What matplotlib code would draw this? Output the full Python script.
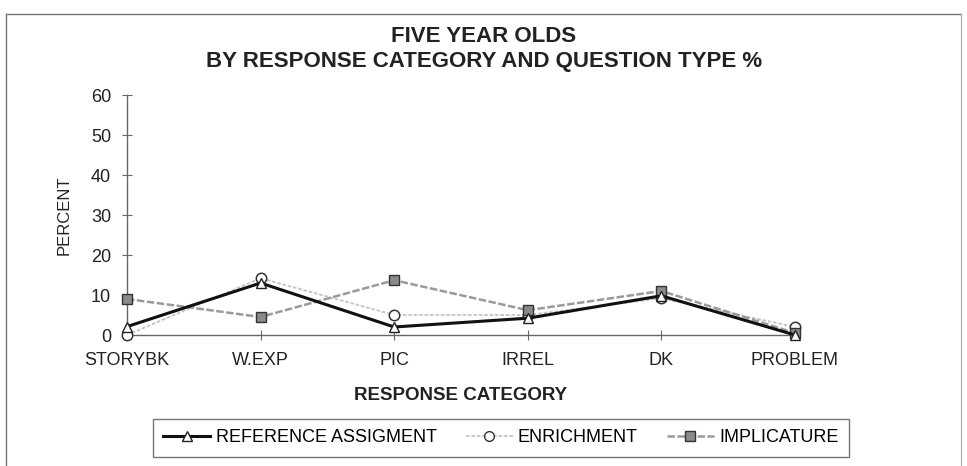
import matplotlib
matplotlib.use("Agg")
import matplotlib.pyplot as plt
from matplotlib.lines import Line2D

plt.rcParams['font.family'] = ['Liberation Sans', 'DejaVu Sans']

# data
categories = ["STORYBK", "W.EXP", "PIC", "IRREL", "DK", "PROBLEM"]
reference = [2.1, 13.0, 2.0, 4.2, 9.8, 0.0]
enrichment = [0.0, 14.2, 5.0, 5.0, 9.2, 2.0]
implicature = [9.0, 4.5, 13.7, 6.2, 11.0, 0.5]
y_ticks = [0, 10, 20, 30, 40, 50, 60]

W, H = 967, 466
fig = plt.figure(figsize=(W / 100, H / 100), dpi=100)

# axes placement in pixels
left, right, bottom, top = 127, 795, 335, 95
ax = fig.add_axes([left / W, 1 - bottom / H, (right - left) / W, (bottom - top) / H])

x = list(range(len(categories)))

# draw lighter series first, reference on top
ax.plot(x, enrichment, color='#c4c4c4', lw=1.3, ls=(0, (2, 1)), marker='o',
        markersize=7.5, markerfacecolor='white', markeredgecolor='#333333',
        markeredgewidth=1.1, zorder=3, clip_on=False)
ax.plot(x, implicature, color='#9a9a9a', lw=1.8, ls=(0, (3, 1)), marker='s',
        markersize=7.5, markerfacecolor='#8a8a8a', markeredgecolor='#333333',
        markeredgewidth=1.0, zorder=4, clip_on=False)
ax.plot(x, reference, color='#111111', lw=2.2, marker='^', markersize=7.5,
        markerfacecolor='white', markeredgecolor='#222222', markeredgewidth=1.0,
        zorder=5, clip_on=False)

ax.set_xlim(0, len(categories) - 1)
ax.set_ylim(0, 60)
ax.set_yticks(y_ticks)
ax.set_yticklabels([str(t) for t in y_ticks], fontsize=13, color='#222222')
ax.set_xticks(x)
ax.set_xticklabels(categories, fontsize=13, color='#222222')

for s in ['top', 'right']:
    ax.spines[s].set_visible(False)
for s in ['left', 'bottom']:
    ax.spines[s].set_color('#666666')
    ax.spines[s].set_linewidth(1.0)
ax.tick_params(axis='y', direction='inout', length=7, color='#666666', pad=8)
ax.tick_params(axis='x', direction='inout', length=7, color='#666666', pad=9)

ax.set_ylabel("PERCENT", fontsize=12, color='#222222', labelpad=14)
ax.set_xlabel("RESPONSE CATEGORY", fontsize=13.5, fontweight='bold',
              color='#222222', labelpad=13)

fig.text(484 / W, 1 - 37 / H, "FIVE YEAR OLDS", ha='center', va='center',
         fontsize=16, fontweight='bold', color='#222222')
fig.text(484 / W, 1 - 61 / H, "BY RESPONSE CATEGORY AND QUESTION TYPE %",
         ha='center', va='center', fontsize=16, fontweight='bold', color='#222222')

handles = [
    Line2D([], [], color='#111111', lw=2.2, marker='^', markersize=7,
           markerfacecolor='white', markeredgecolor='#222222'),
    Line2D([], [], color='#c4c4c4', lw=1.3, ls=(0, (2, 1)), marker='o',
           markersize=7, markerfacecolor='white', markeredgecolor='#333333'),
    Line2D([], [], color='#9a9a9a', lw=1.8, ls=(0, (3, 1)), marker='s',
           markersize=7, markerfacecolor='#8a8a8a', markeredgecolor='#333333'),
]
labels = ["REFERENCE ASSIGMENT", "ENRICHMENT", "IMPLICATURE"]
leg = fig.legend(handles, labels, loc='center', ncol=3,
                 bbox_to_anchor=(501 / W, 1 - 438 / H), fontsize=13,
                 frameon=True, fancybox=False, edgecolor='#555555',
                 handlelength=2.6, columnspacing=1.6, handletextpad=0.3,
                 borderpad=0.6, borderaxespad=0)
leg.get_frame().set_linewidth(1.0)

# outer frame of the chart area
fig.add_artist(Line2D([6 / W, 6 / W], [0, 1 - 14 / H], transform=fig.transFigure,
                      color='#777777', lw=1.0))
fig.add_artist(Line2D([6 / W, 961 / W], [1 - 14 / H, 1 - 14 / H],
                      transform=fig.transFigure, color='#777777', lw=1.0))
fig.add_artist(Line2D([961 / W, 961 / W], [0, 1 - 14 / H], transform=fig.transFigure,
                      color='#aaaaaa', lw=0.8))

fig.savefig("out.png", dpi=100)
